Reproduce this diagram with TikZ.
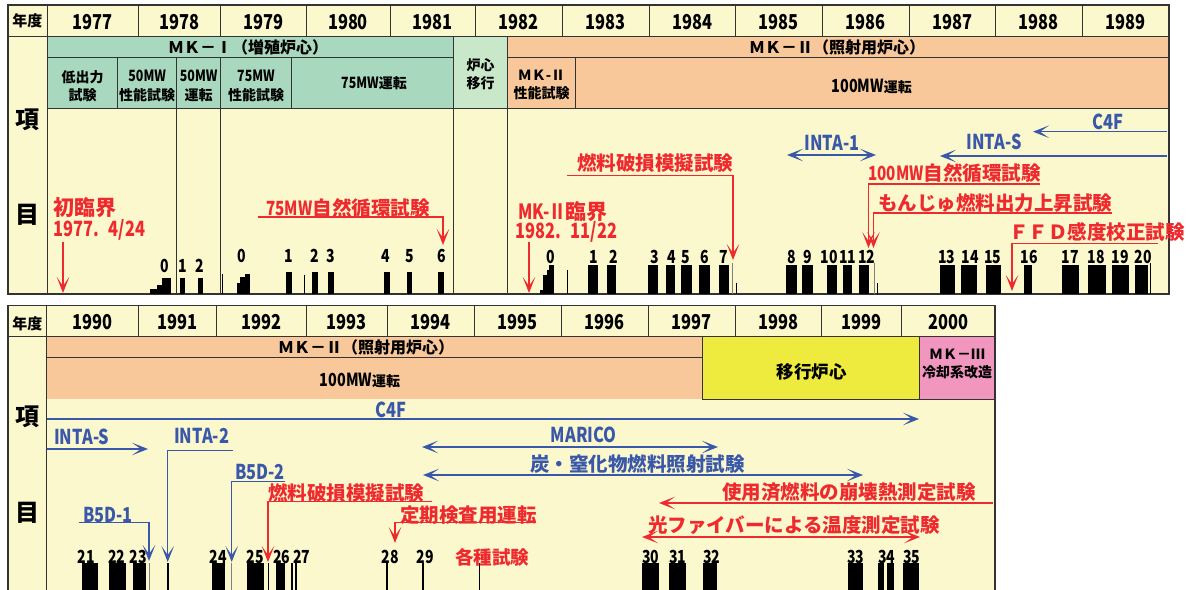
\documentclass[tikz,border=0pt]{standalone}
\usepackage{fontspec}
\usetikzlibrary{arrows.meta}
\setmainfont{Noto Sans CJK JP}
\newfontfamily\cnd[FakeStretch=0.78]{Noto Sans CJK JP}
\newfontfamily\cndm[FakeStretch=0.8]{Noto Sans CJK JP}
\definecolor{cream}{HTML}{FBF8CE}
\definecolor{mkone}{HTML}{A8D8BE}
\definecolor{mkmove}{HTML}{C9E7C9}
\definecolor{mktwo}{HTML}{F8C89A}
\definecolor{mkyel}{HTML}{EEEA3E}
\definecolor{mkpink}{HTML}{F096BF}
\definecolor{rd}{HTML}{EE2A2E}
\definecolor{blu}{HTML}{3A58AA}
\definecolor{frm}{HTML}{333333}
\tikzset{
  frame/.style={draw=frm, line width=1.3pt},
  gridl/.style={draw=frm, line width=1pt},
  yr/.style={inner sep=0, font=\cndm\bfseries\fontsize{20.5}{20.5}\selectfont},
  hd/.style={inner sep=0, font=\bfseries\fontsize{16}{16}\selectfont},
  sub/.style={inner sep=0, align=center, font=\bfseries\fontsize{14}{18.3}\selectfont},
  num/.style={inner sep=0, font=\cnd\bfseries\fontsize{18}{18}\selectfont},
  rlab/.style={inner sep=0, anchor=west, text=rd, font=\bfseries\fontsize{19.5}{19.5}\selectfont},
  rbig/.style={inner sep=0, anchor=west, text=rd, font=\bfseries\fontsize{21}{21}\selectfont},
  blab/.style={inner sep=0, text=blu, font=\cndm\bfseries\fontsize{20.5}{20.5}\selectfont},
  bjp/.style={inner sep=0, anchor=west, text=blu, font=\bfseries\fontsize{19.5}{19.5}\selectfont},
  big/.style={inner sep=0, font=\bfseries\fontsize{24}{24}\selectfont},
  small/.style={inner sep=0, font=\bfseries\fontsize{15}{15}\selectfont},
  rarr/.style={draw=rd, line width=1.4pt, -{Stealth[length=16pt,width=12.5pt,inset=9pt]}},
  rdbl/.style={draw=rd, line width=1.4pt, {Stealth[length=16pt,width=12.5pt,inset=9pt]}-{Stealth[length=16pt,width=12.5pt,inset=9pt]}},
  barr/.style={draw=blu, line width=1.4pt, -{Stealth[length=16pt,width=12.5pt,inset=9pt]}},
  bdbl/.style={draw=blu, line width=1.4pt, {Stealth[length=16pt,width=12.5pt,inset=9pt]}-{Stealth[length=16pt,width=12.5pt,inset=9pt]}},
  thin/.style={draw=black, line width=1.2pt},
}
\newcommand{\mw}[1]{{\cndm\fontsize{15.5}{15.5}\selectfont #1}}
\newcommand{\mwb}[1]{{\cndm\fontsize{18}{18}\selectfont #1}}
\begin{document}
\begin{tikzpicture}[x=1pt,y=-1pt]
\useasboundingbox (0,0) rectangle (1190,589);
\fill[white] (0,0) rectangle (1190,589);

% ================= PANEL 1 =================
\fill[cream] (8,5) rectangle (1169,294);
\fill[mkone] (47.7,36) rectangle (453.3,108);
\fill[mkmove] (453.3,36) rectangle (507.7,108);
\fill[mktwo] (507.7,36) rectangle (1169,108);
\draw[frame] (8,5) rectangle (1169,294);
\draw[gridl] (8,36) -- (1169,36);
\draw[gridl] (47.7,5) -- (47.7,294);
\foreach \x in {138,220.7,306,390,475.7,562,649,735.7,822,909,995.7,1082}
  \draw[gridl] (\x,5) -- (\x,36);
\draw[gridl] (47.7,57) -- (453.3,57);
\draw[gridl] (507.7,57) -- (1169,57);
\draw[gridl] (47.7,108) -- (1169,108);
\foreach \x/\b in {117.7/108,176.7/294,220.7/294,291/108,575.3/108}
  \draw[gridl] (\x,57) -- (\x,\b);
\draw[gridl] (453.3,36) -- (453.3,294);
\draw[gridl] (507.7,36) -- (507.7,294);

\node[small] (nd1) at (27.5,21) {年度};
\foreach \x/\y in {92.9/1977,179.4/1978,263.4/1979,348/1980,432.9/1981,518.9/1982,605.5/1983,692.4/1984,778.9/1985,865.5/1986,952.4/1987,1038.9/1988,1125.5/1989}
  \node[yr] (y\y) at (\x,22) {\y};

\node[hd] (mk1) at (248,47.5) {ＭＫ－Ⅰ（増殖炉心）};
\node[hd] (mk2) at (837,47.5) {ＭＫ－Ⅱ（照射用炉心）};
\node[sub] (s1) at (82.7,86) {低出力\\試験};
\node[sub] (s2) at (147.2,86) {\mw{50MW}\\性能試験};
\node[sub] (s3) at (198.7,86) {\mw{50MW}\\運転};
\node[sub] (s4) at (256,86) {\mw{75MW}\\性能試験};
\node[sub] (s5) at (374,83.5) {\mw{75MW}運転};
\node[sub] (s6) at (480.5,74) {炉心\\移行};
\node[sub] (s7) at (541.5,85) {ＭＫ-Ⅱ\\性能試験};
\node[sub] (s8) at (871.7,86.5) {\mwb{100MW}運転};

\node[big] (k1) at (27.5,120) {項};
\node[big] (m1) at (27.5,215) {目};

% bars panel 1
\fill (150,289) rectangle (156.7,294);
\fill (156.7,285) rectangle (161.7,294);
\fill (161.7,278) rectangle (171,294);
\fill (180,278) rectangle (185,294);
\fill (198,278) rectangle (202.5,294);
\draw[thin,line width=1pt] (222.7,274) -- (222.7,294);
\fill (237.3,283) rectangle (240,294);
\fill (240,277) rectangle (245,294);
\fill (245,274) rectangle (249.5,294);
\foreach \a/\b in {286/292,312/318,328/334,384/389.5,407/412.3,438.3/444.3}
  \fill (\a,272) rectangle (\b,294);
\draw[thin,line width=1pt] (304,275) -- (304,294);
\fill (540,290) rectangle (543.3,294);
\fill (543.3,275) rectangle (546.7,294);
\fill (546.7,270) rectangle (549,294);
\fill (549,265) rectangle (554,294);
\draw[thin,line width=1.5pt] (567.3,270) -- (567.3,294);
\foreach \a/\b in {588.3/598,607.3/616,648.3/657.7,666/675,681/692,699.3/710,719/729,786/797,801.5/812.7,827/837,843/852,859/869,940/955,961/977,986/1001,1024/1032,1062/1079,1088/1106,1112/1129,1135/1148}
  \fill (\a,264.5) rectangle (\b,294);
\draw[draw=gray,line width=1pt] (732.3,263) -- (732.3,294);
\draw[thin,line width=1pt] (736,283) -- (736,294);
\draw[draw=gray,line width=1pt] (874,263) -- (874,294);
\draw[thin,line width=1pt] (877,283) -- (877,294);
\draw[thin,line width=1pt] (1150,263) -- (1150,294);

% numbers panel 1
\foreach \x/\t in {164.3/0,182.7/1,200/2}
  \node[num] at (\x,266) {\t};
\foreach \x/\t in {242/0,289/1,315/2,331/3,385.7/4,410/5,441.7/6}
  \node[num] at (\x,256) {\t};
\foreach \x/\t in {550.7/0,593.3/1,613.3/2,654.3/3,671.7/4,686/5,705/6,723.3/7,791.7/8,807.3/9,829.3/10,847.7/11,866.7/12,946.7/13,970/14,992.7/15,1029/16,1070/17,1096/18,1120/19,1143.3/20}
  \node[num] at (\x,257) {\t};

% red annotations panel 1
\node[rbig] (r1) at (53,208) {初臨界};
\node[rbig] (r1b) at (53,230) {{\cnd 1977.\hspace{10pt}4/24}};
\draw[rarr] (63,242) -- (63,293);
\node[rlab,anchor=center] (r2) at (348,208) {{\cnd 75MW}自然循環試験};
\draw[rarr] (258,217) -| (443,245);
\node[rbig] (r3) at (518,212) {{\cnd MK-Ⅱ}臨界};
\node[rbig] (r3b) at (515,232) {{\cnd 1982.\hspace{10pt}11/22}};
\draw[rarr] (529,242) -- (529,293);
\node[rlab,anchor=center] (r4) at (655,163) {燃料破損模擬試験};
\draw[rarr] (567,175.7) -| (733,260);
\node[rlab] (r5) at (868,173) {{\cnd 100MW}自然循環試験};
\draw[rarr] (1040,184) -| (868.5,248);
\node[rlab] (r6) at (878,203) {もんじゅ燃料出力上昇試験};
\draw[rarr] (1112,213) -| (873.5,248);
\node[rlab] (r7) at (1009,232) {ＦＦＤ感度校正試験};
\draw[rarr] (1158,243.3) -| (1012,291);

% blue annotations panel 1
\node[blab] (b1) at (832,143) {INTA-1};
\draw[bdbl] (787,155) -- (876,155);
\node[blab] (b2) at (994,142) {INTA-S};
\draw[barr] (1167,156) -- (940,156);
\node[blab] (b3) at (1108,122) {C4F};
\draw[barr] (1167,131.7) -- (1033,131.7);

% ================= PANEL 2 =================
\fill[cream] (8,305.7) rectangle (995,595);
\fill[mktwo] (46.7,336.7) rectangle (702.7,399);
\fill[mkyel] (702.7,336.7) rectangle (919.3,399);
\fill[mkpink] (919.3,336.7) rectangle (995,399);
\draw[frame] (8,595) -- (8,305.7) -- (995,305.7) -- (995,595);
\draw[gridl] (8,336.7) -- (995,336.7);
\draw[gridl] (46.7,305.7) -- (46.7,595);
\foreach \x in {138.7,216.7,306,387.7,474,561.7,648,735,821.7,901.7}
  \draw[gridl] (\x,305.7) -- (\x,336.7);
\draw[gridl] (46.7,357.3) -- (702.7,357.3);
\draw[gridl] (702.7,336.7) -- (702.7,399) -- (995,399);
\draw[gridl] (919.3,336.7) -- (919.3,399);

\node[small] (nd2) at (27.5,323.5) {年度};
\foreach \x/\y in {92.7/1990,177.7/1991,261.4/1992,346.9/1993,430.9/1994,517.9/1995,604.9/1996,691.5/1997,778.4/1998,861.7/1999,948.4/2000}
  \node[yr] (y\y) at (\x,322.5) {\y};

\node[hd] (mk3) at (366,347) {ＭＫ－Ⅱ（照射用炉心）};
\node[sub] (s9) at (360,380) {\mwb{100MW}運転};
\node[inner sep=0, font=\bfseries\fontsize{17.5}{17.5}\selectfont] (s10) at (811.7,371.7) {移行炉心};
\node[sub] (s11) at (957,364) {ＭＫ－Ⅲ\\冷却系改造};

\node[big] (k2) at (27.5,417) {項};
\node[big] (m2) at (27.5,512.5) {目};

% bars panel 2
\foreach \a/\b in {82/98,109/126,133/146,212/225,247/264,276/285,642/659,669/686,703/717,848/863,878/884,887/894,903/919}
  \fill (\a,563) rectangle (\b,590);
\draw[draw=gray,line width=1pt] (149,563) -- (149,590);
\draw[thin,line width=2pt] (167.7,563) -- (167.7,590);
\draw[draw=gray,line width=1pt] (231.7,563) -- (231.7,590);
\draw[thin,line width=1pt] (268,563) -- (268,590);
\draw[thin,line width=1.5pt] (292,563) -- (292,590);
\draw[thin,line width=1.5pt] (296,563) -- (296,590);
\draw[thin,line width=1.5pt] (387,563) -- (387,590);
\draw[thin,line width=1.5pt] (423,563) -- (423,590);
\draw[thin,line width=1pt] (479,563) -- (479,590);

\foreach \x/\t in {86/21,116.7/22,138.3/23,218.3/24,255/25,281.7/26,301.7/27,390/28,425/29,650.7/30,677.7/31,711.7/32,855.7/33,886.7/34,911.7/35}
  \node[num] at (\x,556.7) {\t};

% blue annotations panel 2
\node[blab] (b4) at (391,410) {C4F};
\draw[barr] (46.7,419) -- (919,419);
\node[blab] (b5) at (81.7,436.7) {INTA-S};
\draw[barr] (46.7,449) -- (148,449);
\node[blab] (b6) at (201.7,435.5) {INTA-2};
\draw[barr] (233,450.7) -| (167.7,562);
\node[blab] (b7) at (260,471.5) {B5D-2};
\draw[barr] (285,481.7) -| (231.7,562);
\node[blab] (b8) at (108,514.6) {B5D-1};
\draw[barr] (79,522.7) -| (149,561);
\node[blab] (b9) at (583.7,435.3) {MARICO};
\draw[bdbl] (422,447) -- (718,447);
\node[bjp] (b10) at (530,464) {炭・窒化物燃料照射試験};
\draw[bdbl] (423,475) -- (863,475);

% red annotations panel 2
\node[rlab] (r8) at (268,493) {燃料破損模擬試験};
\draw[rarr] (432,501.7) -| (268,562);
\node[rlab] (r9) at (400,515) {定期検査用運転};
\draw[rarr] (533,522.7) -| (395,543);
\node[rlab,font=\bfseries\fontsize{18.5}{18.5}\selectfont] (r10) at (455,557) {各種試験};
\node[rlab] (r11) at (722,492) {使用済燃料の崩壊熱測定試験};
\draw[rarr] (993,503) -- (659,503);
\node[rlab] (r12) at (648,525) {光ファイバーによる温度測定試験};
\draw[rdbl] (642,537) -- (920,537);
\end{tikzpicture}
\end{document}
